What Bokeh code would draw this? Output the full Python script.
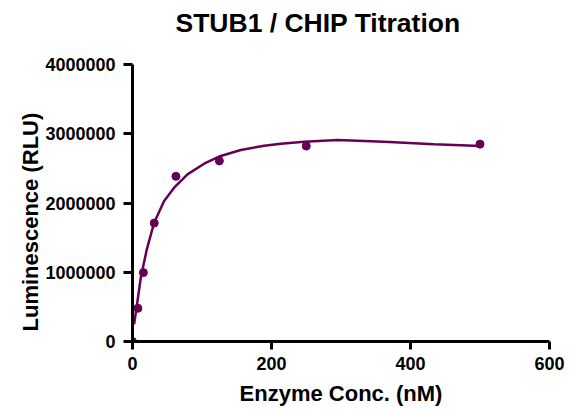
from bokeh.plotting import figure
from bokeh.models import Range1d, FixedTicker, NumeralTickFormatter, Title, Label, LinearAxis
from bokeh.embed import file_html
from bokeh.resources import INLINE

# ---- data ----
conc_nM = [0, 7.8125, 15.625, 31.25, 62.5, 125, 250, 500]
luminescence = [0, 480000, 995000, 1710000, 2385000, 2608000, 2822000, 2850000]

fit_x = [2.3, 7.2, 11.9, 20.6, 31.1, 45.5, 59.9, 79.1, 103, 127, 155.8, 189.4,
         213.4, 247, 295, 362, 434, 501]
fit_y = [248000, 585000, 920000, 1331000, 1715000, 2029000, 2221000, 2414000, 2567000,
         2679000, 2765000, 2828000, 2856000, 2885000, 2908000, 2885000, 2848000, 2823000]

x_ticks = [0, 200, 400, 600]
y_ticks = [0, 1000000, 2000000, 3000000, 4000000]

title_text = "STUB1 / CHIP Titration"
x_label = "Enzyme Conc. (nM)"
y_label = "Luminescence (RLU)"

COLOR = "#660055"
FONT = "Liberation Sans"

# frame reaches the top of the canvas so the title can sit inside it;
# the y axis itself is bounded to 0..4,000,000
Y_AXIS_MAX = 4000000
FRAME_BOTTOM = 341          # canvas px of y = 0
AXIS_TOP = 64               # canvas px of y = 4,000,000
y_top = Y_AXIS_MAX * FRAME_BOTTOM / (FRAME_BOTTOM - AXIS_TOP)

p = figure(width=570, height=409, output_backend="svg", toolbar_location=None,
           x_range=Range1d(0, 600), y_range=Range1d(0, y_top),
           min_border_left=132, min_border_right=21, min_border_top=0,
           min_border_bottom=409 - FRAME_BOTTOM)
p.outline_line_color = None
p.xgrid.visible = False
p.ygrid.visible = False
p.background_fill_color = "white"
p.border_fill_color = "white"

for ax in (p.xaxis[0], p.yaxis[0]):
    ax.axis_line_width = 3
    ax.axis_line_color = "black"
    ax.major_tick_line_width = 3
    ax.major_tick_line_color = "black"
    ax.major_tick_in = 0
    ax.minor_tick_in = 0
    ax.minor_tick_out = 0
    ax.major_label_text_font = FONT
    ax.major_label_text_font_size = "18px"
    ax.major_label_text_font_style = "bold"
    ax.major_label_text_color = "black"

xa = p.xaxis[0]
xa.ticker = FixedTicker(ticks=x_ticks)
xa.major_tick_out = 8
xa.major_label_standoff = 7
xa.axis_label = x_label
xa.axis_label_text_font = FONT
xa.axis_label_text_font_size = "22px"
xa.axis_label_text_font_style = "bold"
xa.axis_label_text_color = "black"
xa.axis_label_standoff = 8

ya = p.yaxis[0]
ya.ticker = FixedTicker(ticks=y_ticks)
ya.formatter = NumeralTickFormatter(format="0")
ya.bounds = (0, Y_AXIS_MAX)
ya.major_tick_out = 9
ya.major_label_standoff = 8

# empty spacer between the tick labels and the rotated y label (no ticks drawn)
spacer = LinearAxis(ticker=FixedTicker(ticks=[]), axis_line_color=None,
                    major_tick_line_color="white", minor_tick_line_color=None,
                    major_tick_in=0, major_tick_out=12, minor_tick_in=0, minor_tick_out=0)
p.add_layout(spacer, "left")

ytitle = Title(text=y_label, text_font=FONT, text_font_size="22px", text_font_style="bold",
               text_color="black", align="left", offset=10, standoff=0)
p.add_layout(ytitle, "left")

title = Label(x=43, y=FRAME_BOTTOM - 22, x_units="screen", y_units="screen",
              text=title_text, text_font=FONT, text_font_size="26.5px", text_font_style="bold",
              text_color="black", text_align="left", text_baseline="alphabetic")
p.add_layout(title)

p.line(fit_x, fit_y, line_color=COLOR, line_width=2.5)
p.scatter(conc_nM, luminescence, size=8, fill_color=COLOR, line_color=COLOR)

open("out.html", "w").write(file_html(p, INLINE))
